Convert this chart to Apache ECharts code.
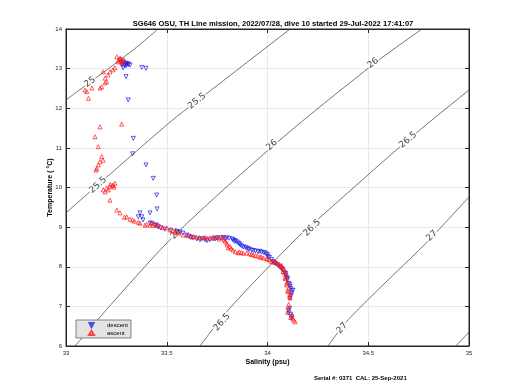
<!DOCTYPE html>
<html><head><meta charset="utf-8">
<script src="https://cdn.jsdelivr.net/npm/echarts@6/dist/echarts.min.js"></script>
<style>html,body{margin:0;padding:0;background:#fff}#c{width:520px;height:390px}</style>
</head><body><div id="c"></div>
<script>
const titleText = 'SG646 OSU, TH Line mission, 2022/07/28, dive 10 started 29-Jul-2022 17:41:07';
const footerText = 'Serial #: 0371  CAL: 25-Sep-2021';
const xTicks = [33, 33.5, 34, 34.5, 35];
const yTicks = [6, 7, 8, 9, 10, 11, 12, 13, 14];

const descent = [
[33.268,13.22],[33.283,13.17],[33.298,13.14],[33.278,13.09],[33.308,13.12],[33.293,13.07],[33.283,13.02],[33.318,13.09],
[33.29,13.10],[33.30,13.12],[33.31,13.10],[33.285,13.12],[33.30,13.08],[33.275,13.15],
[33.376,13.03],[33.397,13.01],[33.298,12.80],[33.309,12.21],[33.334,11.24],[33.331,10.85],[33.397,10.57],[33.433,10.23],
[33.450,9.81],[33.452,9.46],[33.417,9.36],[33.367,9.36],[33.359,9.26],[33.376,9.26],[33.382,9.18],[33.425,9.10],
[33.442,9.05],[33.457,9.01],[33.417,9.10],[33.450,9.05],[33.566,8.88],[33.599,8.80],[33.630,8.73],[33.665,8.68],
[33.715,8.68],[33.748,8.73],[33.798,8.73],[33.829,8.68],[33.847,8.63],[33.872,8.52],[33.897,8.47],[33.922,8.42],
[33.953,8.38],[33.988,8.35],[34.003,8.25],[34.027,8.13],[34.052,8.04],[34.077,7.92],[34.092,7.79],[34.097,7.67],
[34.112,7.50],[34.120,7.34],[34.112,7.21],[34.102,6.91],[34.120,6.74],[34.127,7.41],
[33.58,8.85],[33.61,8.77],[33.65,8.70],[33.69,8.68],[33.73,8.70],[33.77,8.73],[33.81,8.72],[33.84,8.66],
[33.86,8.58],[33.88,8.50],[33.91,8.45],[33.94,8.40],[33.97,8.37],[34.00,8.30],[34.02,8.18],[34.04,8.08],
[34.065,7.98],[34.085,7.85],[34.095,7.73],[34.105,7.58],[34.115,7.45],[34.118,7.28],[34.105,6.83],[34.11,6.95],
[33.47,8.98],[33.49,8.95],[33.52,8.92],[33.55,8.89],[33.62,8.74],[33.675,8.71],[33.70,8.66],[33.74,8.70],
[33.78,8.74],[33.79,8.70],[33.825,8.70],[33.835,8.64],[33.855,8.60],[33.865,8.55],[33.89,8.49],[33.905,8.44],
[33.93,8.41],[33.96,8.39],[33.98,8.36],[33.995,8.32],[34.01,8.24],[34.035,8.10],[34.06,8.00],[34.07,7.95],
[34.09,7.83],[34.10,7.70],[34.11,7.55],[34.12,7.40],[34.115,6.80],[34.12,6.70]
];

const ascent = [
[34.137,6.61],[34.120,6.78],[34.107,6.96],[34.112,7.21],[34.102,7.37],[34.095,7.54],[34.087,7.72],[34.077,7.88],
[34.071,8.00],[34.046,8.09],[34.021,8.13],[33.996,8.20],[33.963,8.25],[33.928,8.30],[33.897,8.35],[33.854,8.35],
[33.829,8.42],[33.814,8.51],[33.798,8.60],[33.779,8.73],[33.748,8.75],[33.715,8.73],[33.680,8.73],[33.630,8.76],
[33.581,8.80],[33.549,8.86],[33.516,8.93],[33.467,9.01],[33.417,9.05],[33.500,8.98],[33.432,9.05],[33.425,9.10],
[33.392,9.05],[33.367,9.10],[33.318,9.20],[33.301,9.26],[33.268,9.36],[33.252,9.43],[33.218,9.68],[33.194,9.89],
[33.210,9.94],[33.185,9.94],[33.202,9.99],[33.218,10.02],[33.235,10.06],[33.243,10.11],[33.238,10.01],[33.149,10.44],
[33.152,10.48],[33.160,10.57],[33.169,10.65],[33.184,10.69],[33.177,10.78],[33.160,11.03],[33.144,11.28],[33.169,11.53],
[33.276,11.60],[33.111,12.25],[33.103,12.42],[33.094,12.46],[33.128,12.51],[33.169,12.51],[33.177,12.54],[33.194,12.64],
[33.202,12.67],[33.194,12.76],[33.208,12.84],[33.185,12.92],[33.218,12.92],[33.233,12.97],[33.243,13.02],[33.252,13.30],
[33.268,13.26],[33.276,13.22],[33.258,13.17],[33.278,13.14],[33.288,13.22],[33.26,13.20],[33.27,13.25],[33.28,13.18],
[33.54,8.88],[33.60,8.79],[33.66,8.74],[33.73,8.75],[33.76,8.70],[33.79,8.65],[33.82,8.46],[33.87,8.36],
[33.91,8.33],[33.94,8.28],[33.98,8.22],[34.01,8.17],[34.04,8.11],[34.06,8.05],[34.08,7.96],[34.09,7.80],
[34.10,7.62],[34.105,7.45],[34.11,7.30],[34.10,6.85],[34.125,6.70],[33.44,9.08],[33.48,8.99],[33.40,9.07],[33.36,9.12],
[33.45,9.04],[33.53,8.91],[33.56,8.85],[33.62,8.77],[33.645,8.75],[33.69,8.74],[33.70,8.72],[33.76,8.74],
[33.785,8.68],[33.80,8.55],[33.805,8.48],[33.84,8.38],[33.86,8.37],[33.88,8.34],[33.92,8.31],[33.95,8.27],
[33.97,8.24],[34.00,8.19],[34.03,8.12],[34.055,8.07],[34.07,8.03],[34.08,7.92],[34.085,7.85],[34.09,7.70],
[34.095,7.58],[34.10,7.40],[34.11,7.25],[34.105,7.05],[34.115,6.72],[34.13,6.65],[33.34,9.15],[33.33,9.18],
[33.29,9.25],[33.23,10.05],[33.22,10.08]
];

const contour250 = [[33.0,12.21],[33.333,13.47],[33.457,14]];
const contour255 = [[33.0,9.36],[33.516,11.65],[33.65,12.18],[34.112,14]];
const contour260 = [[33.045,6],[33.243,7.16],[33.546,8.83],[34.062,11.2],[34.533,13.14],[34.767,14]];
const contour265 = [[33.665,6],[33.814,6.96],[34.151,8.75],[34.275,9.31],[34.697,11.2],[35,12.46]];
const contour270 = [[34.30,6],[34.409,6.71],[34.792,8.62],[34.871,9.05],[35,9.76]];
const contour275 = [[34.935,6],[35,6.35]];

// contour label: [text, S, T, angle]
const contourLabels = [
['25',33.119,12.66,37],['25.5',33.159,10.06,42],['25.5',33.65,12.18,38],
['26',33.546,8.83,46],['26',34.022,11.07,42],['26',34.524,13.14,37],
['26.5',33.774,6.6,48],['26.5',34.221,8.98,44],['26.5',34.697,11.2,40],
['27',34.37,6.45,45],['27',34.816,8.78,43]
];

const FONT = 'Liberation Sans';
const chart = echarts.init(document.getElementById('c'), null, {renderer:'canvas'});
const contourSeries = [contour250,contour255,contour260,contour265,contour270,contour275].map(d => ({
  type:'line', data:d, symbol:'none', smooth:0.3, silent:true, xAxisIndex:0, yAxisIndex:0,
  lineStyle:{color:'#3a3a3a', width:0.7}, z:2
}));
chart.setOption({
  animation:false,
  backgroundColor:'#fff',
  title:{text:titleText, left:268, textAlign:'center', top:15,
    textStyle:{fontFamily:FONT, fontSize:7.6, fontWeight:'bold', color:'#000'}},
  graphic:[{type:'text', left:314, top:375, style:{text:footerText, font:'bold 6px "Liberation Sans"', fill:'#000'}}],
  grid:{left:66, right:51, top:29, bottom:44, show:true, borderColor:'#262626', borderWidth:1, backgroundColor:'#fff'},
  legend:{left:76, top:320, orient:'vertical', backgroundColor:'#e3e3e3', borderColor:'#555', borderWidth:0.7,
    padding:[2,3,2,12], itemWidth:5, itemHeight:4, itemGap:2,
    textStyle:{fontFamily:FONT, fontSize:6, color:'#000', padding:[0,0,0,8]},
    data:[{name:'descent', icon:'path://M0,0 L10,0 L5,10 Z'},{name:'ascent', icon:'triangle'}]},
  xAxis:[
    {type:'value', min:xTicks[0], max:xTicks[xTicks.length-1], interval:0.5,
     name:'Salinity (psu)', nameLocation:'middle', nameGap:13, nameMoveOverlap:false,
     nameTextStyle:{fontFamily:FONT, fontSize:7, fontWeight:'bold', color:'#000'},
     axisLine:{show:true, lineStyle:{color:'#262626'}},
     axisTick:{show:true, inside:true, length:4, lineStyle:{color:'#262626'}},
     axisLabel:{fontFamily:FONT, fontSize:6, color:'#262626', margin:4, formatter:v=>String(v)},
     splitLine:{show:true, lineStyle:{color:'#e3e3e3', width:0.8}}},
    {type:'value', position:'top', min:xTicks[0], max:xTicks[xTicks.length-1], interval:0.5,
     axisLine:{show:true, lineStyle:{color:'#262626'}},
     axisTick:{show:true, inside:true, length:4, lineStyle:{color:'#262626'}},
     axisLabel:{show:false}, splitLine:{show:false}}
  ],
  yAxis:[
    {type:'value', min:yTicks[0], max:yTicks[yTicks.length-1], interval:1,
     name:'Temperature ( °C)', nameLocation:'middle', nameGap:12, nameRotate:90, nameMoveOverlap:false,
     nameTextStyle:{fontFamily:FONT, fontSize:7, fontWeight:'bold', color:'#000'},
     axisLine:{show:true, lineStyle:{color:'#262626'}},
     axisTick:{show:true, inside:true, length:4, lineStyle:{color:'#262626'}},
     axisLabel:{fontFamily:FONT, fontSize:6, color:'#262626', margin:4},
     splitLine:{show:true, lineStyle:{color:'#e3e3e3', width:0.8}}},
    {type:'value', position:'right', min:yTicks[0], max:yTicks[yTicks.length-1], interval:1,
     axisLine:{show:true, lineStyle:{color:'#262626'}},
     axisTick:{show:true, inside:true, length:4, lineStyle:{color:'#262626'}},
     axisLabel:{show:false}, splitLine:{show:false}}
  ],
  series:[
    ...contourSeries,
    {type:'scatter', name:'clabels', silent:true, symbolSize:0, z:3,
     data: contourLabels.map(c => ({value:[c[1],c[2]],
       label:{show:true, position:'inside', formatter:c[0], rotate:c[3], fontFamily:'DejaVu Sans', fontSize:9,
         color:'#111', backgroundColor:'#fff', padding:[0,1]}}))},
    {type:'scatter', name:'descent', data:descent, symbol:'triangle', symbolRotate:180, symbolSize:4, z:5,
     itemStyle:{color:'rgba(0,0,0,0)', borderColor:'#1f1fe6', borderWidth:0.9}},
    {type:'scatter', name:'ascent', data:ascent, symbol:'triangle', symbolSize:4, z:6,
     itemStyle:{color:'rgba(0,0,0,0)', borderColor:'#ff1a1a', borderWidth:0.9}}
  ]
});
</script></body></html>
